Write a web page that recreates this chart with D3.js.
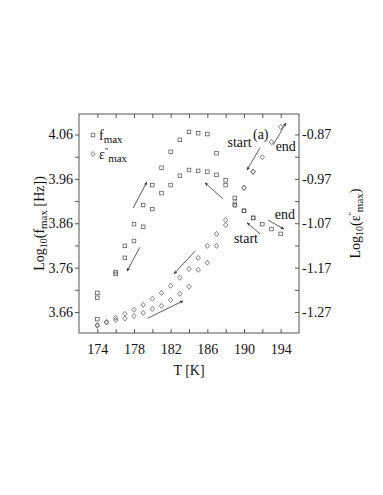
<!DOCTYPE html>
<html>
<head>
<meta charset="utf-8">
<script src="https://cdn.jsdelivr.net/npm/d3@7"></script>
<style>
  body { margin: 0; background: #fff; }
  svg text { font-family: "Liberation Serif", "DejaVu Serif", serif; fill: #111; }
</style>
</head>
<body>
<div id="chart"></div>
<script>
// f_max, heating run (outer loop), log10 Hz
const fHeatT = [174, 176, 177, 178, 179, 180, 181, 182, 183, 184, 185, 186, 187, 188, 189, 190, 191, 192, 193, 194];
const fHeatV = [3.703, 3.750, 3.809, 3.858, 3.901, 3.946, 3.985, 4.021, 4.048, 4.066, 4.063, 4.061, 4.018, 3.957, 3.901, 3.888, 3.872, 3.858, 3.847, 3.836];
// f_max, cooling run (inner loop)
const fCoolT = [191, 190, 189, 188, 187, 186, 185, 184, 183, 182, 181, 180, 179, 178, 177, 176, 174, 174];
const fCoolV = [3.872, 3.888, 3.917, 3.946, 3.969, 3.976, 3.978, 3.980, 3.967, 3.946, 3.928, 3.892, 3.852, 3.820, 3.782, 3.746, 3.692, 3.644];
// eps''_max, cooling run (upper branch), log10
const eCoolT = [191, 190, 189, 188, 187, 186, 185, 184, 183, 182, 181, 180, 179, 178, 177, 176, 175, 174];
const eCoolV = [-0.954, -0.990, -1.022, -1.063, -1.094, -1.121, -1.148, -1.173, -1.193, -1.211, -1.227, -1.240, -1.254, -1.265, -1.274, -1.283, -1.292, -1.299];
// eps''_max, heating run (lower branch)
const eHeatT = [174, 175, 176, 177, 178, 179, 180, 181, 182, 183, 184, 185, 186, 187, 188, 189, 190, 191, 192, 193, 194];
const eHeatV = [-1.301, -1.294, -1.288, -1.285, -1.279, -1.272, -1.263, -1.256, -1.243, -1.229, -1.213, -1.175, -1.159, -1.121, -1.074, -1.029, -0.990, -0.954, -0.921, -0.887, -0.853];

const xTicks = [174, 176, 178, 180, 182, 184, 186, 188, 190, 192, 194];
const xLabels = [174, 178, 182, 186, 190, 194];
const yLeftLabels = [3.66, 3.76, 3.86, 3.96, 4.06];
const yLeftTicks = [3.66, 3.71, 3.76, 3.81, 3.86, 3.91, 3.96, 4.01, 4.06];
const yRightLabels = [-1.27, -1.17, -1.07, -0.97, -0.87];
const yRightTicks = [-1.27, -1.22, -1.17, -1.12, -1.07, -1.02, -0.97, -0.92, -0.87];

// arrows [T0, f0, T1, f1] in left-axis units, head at the second point
const arrows = [
  [177.9, 3.894, 179.4, 3.953],
  [178.65, 3.806, 177.24, 3.752],
  [179.5, 3.646, 183.35, 3.685],
  [184.65, 3.797, 182.36, 3.746],
  [187.7, 3.915, 185.75, 3.951],
  [191.75, 4.030, 190.33, 3.980],
  [193.16, 4.036, 194.58, 4.086],
  [191.75, 3.836, 190.33, 3.861],
  [192.62, 3.867, 194.36, 3.847]
];
const notes = [
  {t: 190.98, f: 4.050, text: "(a)"},
  {t: 188.2, f: 4.032, text: "start"},
  {t: 193.45, f: 4.023, text: "end"},
  {t: 193.35, f: 3.870, text: "end"},
  {t: 188.9, f: 3.816, text: "start"}
];

const width = 383, height = 495;
const margin = {top: 114, right: 84, bottom: 162, left: 79};
const offset = 4.93; // right axis = left axis - offset

const x = d3.scaleLinear().domain([172, 196]).range([margin.left, width - margin.right]);
const y = d3.scaleLinear().domain([3.6127, 4.1062]).range([height - margin.bottom, margin.top]);
const yR = d3.scaleLinear().domain([3.6127 - offset, 4.1062 - offset]).range([height - margin.bottom, margin.top]);

const svg = d3.select("#chart").append("svg")
  .attr("width", width).attr("height", height);

const defs = svg.append("defs");
defs.append("marker")
  .attr("id", "head")
  .attr("viewBox", "0 0 10 10")
  .attr("refX", 9).attr("refY", 5)
  .attr("markerWidth", 5).attr("markerHeight", 5)
  .attr("orient", "auto")
  .append("path")
  .attr("d", "M0,1 L10,5 L0,9 L3,5 Z")
  .attr("fill", "#333");

const axisColor = "#555";
const markColor = "#555";
const fs = 14;

// frame
svg.append("rect")
  .attr("x", x.range()[0]).attr("y", y.range()[1])
  .attr("width", x.range()[1] - x.range()[0])
  .attr("height", y.range()[0] - y.range()[1])
  .attr("fill", "none").attr("stroke", axisColor).attr("stroke-width", 1);

// bottom and top axes, ticks pointing inward
svg.append("g")
  .attr("transform", `translate(0,${y.range()[0]})`)
  .call(d3.axisBottom(x).tickValues(xTicks).tickSizeInner(-4).tickSizeOuter(0)
    .tickFormat(d => xLabels.includes(d) ? d : ""))
  .call(g => g.select(".domain").remove())
  .call(g => g.selectAll(".tick line").attr("stroke", axisColor))
  .call(g => g.selectAll(".tick text").attr("y", 11).attr("font-size", fs)
    .style("font-family", "Liberation Serif"));

svg.append("g")
  .attr("transform", `translate(0,${y.range()[1]})`)
  .call(d3.axisTop(x).tickValues(xTicks).tickSizeInner(-4).tickSizeOuter(0).tickFormat(""))
  .call(g => g.select(".domain").remove())
  .call(g => g.selectAll(".tick line").attr("stroke", axisColor));

// left axis, ticks outward
svg.append("g")
  .attr("transform", `translate(${x.range()[0]},0)`)
  .call(d3.axisLeft(y).tickValues(yLeftTicks).tickSizeInner(4).tickSizeOuter(0)
    .tickFormat(d => yLeftLabels.some(v => Math.abs(v - d) < 1e-6) ? d3.format(".2f")(d) : ""))
  .call(g => g.select(".domain").remove())
  .call(g => g.selectAll(".tick line").attr("stroke", axisColor))
  .call(g => g.selectAll(".tick text").attr("x", -6).attr("font-size", fs)
    .style("font-family", "Liberation Serif"));

// right axis, ticks inward, labels outside
svg.append("g")
  .attr("transform", `translate(${x.range()[1]},0)`)
  .call(d3.axisRight(yR).tickValues(yRightTicks).tickSizeInner(-4).tickSizeOuter(0)
    .tickFormat(d => yRightLabels.some(v => Math.abs(v - d) < 1e-6) ? d3.format(".2f")(d).replace("−", "-") : ""))
  .call(g => g.select(".domain").remove())
  .call(g => g.selectAll(".tick line").attr("stroke", axisColor))
  .call(g => g.selectAll(".tick text").attr("x", 3).attr("font-size", fs)
    .style("font-family", "Liberation Serif"));

// markers
const square = (g, T, V, scale) => g.selectAll(null)
  .data(d3.zip(T, V)).enter().append("rect")
  .attr("x", d => x(d[0]) - 1.8).attr("y", d => scale(d[1]) - 1.8)
  .attr("width", 3.6).attr("height", 3.6)
  .attr("fill", "none").attr("stroke", markColor).attr("stroke-width", 0.75);

const diamond = (g, T, V, scale) => g.selectAll(null)
  .data(d3.zip(T, V)).enter().append("path")
  .attr("d", d => {
    const cx = x(d[0]), cy = scale(d[1]);
    return `M${cx},${cy - 2.5}L${cx + 2.2},${cy}L${cx},${cy + 2.5}L${cx - 2.2},${cy}Z`;
  })
  .attr("fill", "none").attr("stroke", markColor).attr("stroke-width", 0.75);

const pts = svg.append("g");
square(pts, fHeatT, fHeatV, y);
square(pts, fCoolT, fCoolV, y);
diamond(pts, eCoolT, eCoolV, yR);
diamond(pts, eHeatT, eHeatV, yR);

// arrows
svg.append("g").selectAll("line")
  .data(arrows).enter().append("line")
  .attr("x1", d => x(d[0])).attr("y1", d => y(d[1]))
  .attr("x2", d => x(d[2])).attr("y2", d => y(d[3]))
  .attr("stroke", "#333").attr("stroke-width", 0.8)
  .attr("marker-end", "url(#head)");

svg.append("g").selectAll("text")
  .data(notes).enter().append("text")
  .attr("x", d => x(d.t)).attr("y", d => y(d.f))
  .attr("font-size", fs)
  .text(d => d.text);

// legend
const lg = svg.append("g").attr("transform", "translate(93,135)");
lg.append("rect").attr("x", -1.8).attr("y", -1.8).attr("width", 3.6).attr("height", 3.6)
  .attr("fill", "none").attr("stroke", markColor).attr("stroke-width", 0.75);
const l1 = lg.append("text").attr("x", 6).attr("y", 4.5).attr("font-size", fs);
l1.append("tspan").text("f");
l1.append("tspan").attr("dy", 3).attr("font-size", 11).text("max");
lg.append("path").attr("d", "M0,16.5L2.2,19L0,21.5L-2.2,19Z")
  .attr("fill", "none").attr("stroke", markColor).attr("stroke-width", 0.75);
const l2 = lg.append("text").attr("x", 6).attr("y", 23.5).attr("font-size", fs);
l2.append("tspan").text("ε");
l2.append("tspan").attr("dy", -5).attr("font-size", 9).text("''");
l2.append("tspan").attr("dy", 8).attr("font-size", 11).text("max");

// axis titles
const cx = (x.range()[0] + x.range()[1]) / 2;
const cy = (y.range()[0] + y.range()[1]) / 2;

svg.append("text")
  .attr("x", cx).attr("y", 375)
  .attr("text-anchor", "middle").attr("font-size", fs)
  .text("T [K]");

const tl = svg.append("text")
  .attr("transform", `translate(44,${cy}) rotate(-90)`)
  .attr("text-anchor", "middle").attr("font-size", fs);
tl.append("tspan").text("Log");
tl.append("tspan").attr("dy", 3).attr("font-size", 10).text("10");
tl.append("tspan").attr("dy", -3).text("(f");
tl.append("tspan").attr("dy", 3).attr("font-size", 11).text("max");
tl.append("tspan").attr("dy", -3).text(" [Hz])");

const tr = svg.append("text")
  .attr("transform", `translate(360,${cy}) rotate(-90)`)
  .attr("text-anchor", "middle").attr("font-size", fs);
tr.append("tspan").text("Log");
tr.append("tspan").attr("dy", 3).attr("font-size", 10).text("10");
tr.append("tspan").attr("dy", -3).text("(ε");
tr.append("tspan").attr("dy", -5).attr("font-size", 9).text("''");
tr.append("tspan").attr("dy", 8).attr("font-size", 11).text("max");
tr.append("tspan").attr("dy", -3).text(")");
</script>
</body>
</html>
